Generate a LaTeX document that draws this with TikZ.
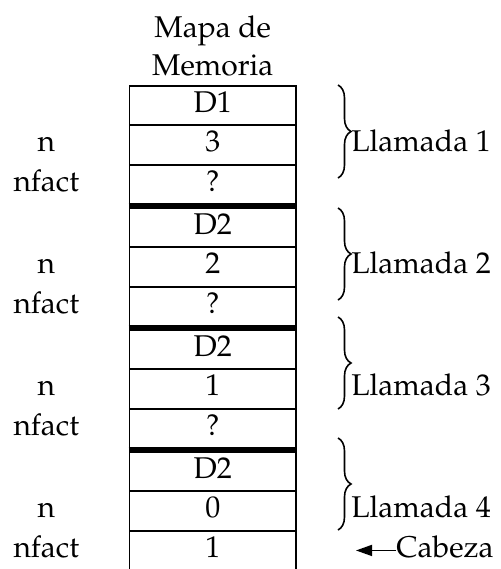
\documentclass[tikz,border=0pt]{standalone}
\usepackage[T1]{fontenc}
\usepackage{mathpazo}
\usetikzlibrary{arrows.meta, positioning, calc, decorations.pathreplacing}

\begin{document}
\begin{tikzpicture}[>=Triangle, x=0.5pt, y=-0.5pt,
    every node/.append style={font=\fontsize{15}{19}\selectfont},
    cell/.style={draw, line width=0.85pt, outer sep=0pt, minimum width=83.25pt,
                 minimum height=19.75pt, inner sep=0pt, text height=0.69em, text depth=0pt},
    varname/.style={minimum width=40pt, inner sep=0pt, text height=0.69em, text depth=0pt},
    call/.style={inner sep=0pt, text height=0.69em, text depth=0pt, anchor=west},
    sepline/.style={line width=2.5pt, shorten <=-0.4pt, shorten >=-0.4pt},
    callbrace/.style={decorate, decoration={brace, amplitude=6.5pt}, line width=0.8pt}]
  \useasboundingbox (0,0) rectangle (501,569);

  % memory stack, one block of three cells per call
  \node[cell] (d1) at (212.75,105.45) {D1};
  \node[cell, below=0pt of d1] (n1) {3};
  \node[cell, below=0pt of n1] (f1) {?};
  \node[cell, below=1.75pt of f1] (d2) {D2};
  \node[cell, below=0pt of d2] (n2) {2};
  \node[cell, below=0pt of n2] (f2) {?};
  \node[cell, below=1.75pt of f2] (d3) {D2};
  \node[cell, below=0pt of d3] (n3) {1};
  \node[cell, below=0pt of n3] (f3) {?};
  \node[cell, below=1.75pt of f3] (d4) {D2};
  \node[cell, below=0pt of d4] (n4) {0};
  \node[cell, below=0pt of n4] (f4) {1};

  \node[above=1.3pt of d1, align=center] (title) {Mapa de\\Memoria};

  % heavy rules between the blocks
  \draw[sepline] ($(f1.south west)!.5!(d2.north west)$) -- ($(f1.south east)!.5!(d2.north east)$);
  \draw[sepline] ($(f2.south west)!.5!(d3.north west)$) -- ($(f2.south east)!.5!(d3.north east)$);
  \draw[sepline] ($(f3.south west)!.5!(d4.north west)$) -- ($(f3.south east)!.5!(d4.north east)$);

  % variable names
  \node[varname, left=21.4pt of n1] (vn1) {n};
  \node[varname, left=21.4pt of f1] (vf1) {nfact};
  \node[varname, left=21.4pt of n2] (vn2) {n};
  \node[varname, left=21.4pt of f2] (vf2) {nfact};
  \node[varname, left=21.4pt of n3] (vn3) {n};
  \node[varname, left=21.4pt of f3] (vf3) {nfact};
  \node[varname, left=21.4pt of n4] (vn4) {n};
  \node[varname, left=21.4pt of f4] (vf4) {nfact};

  % calls
  \draw[callbrace] (338,85) -- (338,178);
  \draw[callbrace] (338,208) -- (338,300);
  \draw[callbrace] (338,317) -- (338,409);
  \draw[callbrace] (338,438) -- (338,530);
  \node[call, right=27.5pt of n1] (l1) {Llamada 1};
  \node[call, right=27.5pt of n2] (l2) {Llamada 2};
  \node[call, right=27.5pt of n3] (l3) {Llamada 3};
  \node[call, right=27.5pt of n4] (l4) {Llamada 4};

  \node[call, right=50pt of f4] (cab) {Cabeza};
  \coordinate[left=20pt of cab] (cabtip);
  \draw[line width=0.8pt, -{Triangle[length=8pt, width=5.5pt]}] (cab.west) -- (cabtip);
\end{tikzpicture}
\end{document}
